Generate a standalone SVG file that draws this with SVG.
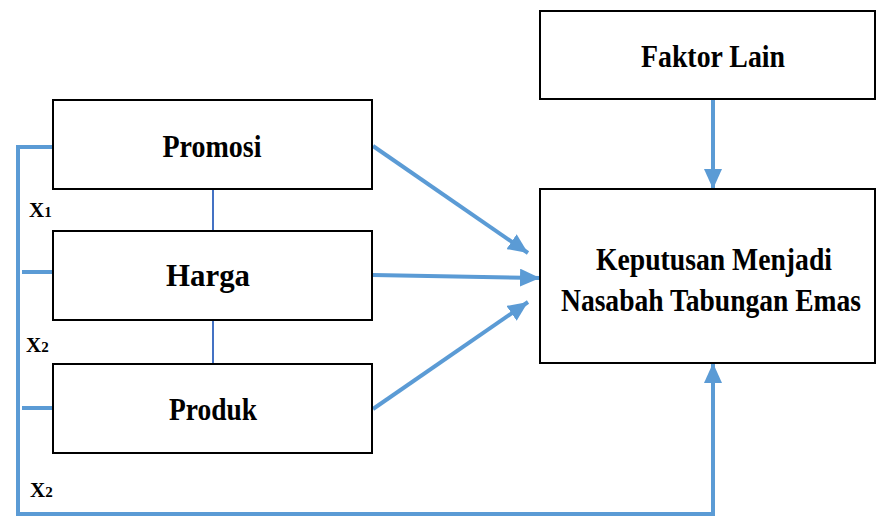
<svg xmlns="http://www.w3.org/2000/svg" width="876" height="517" viewBox="0 0 876 517">
<style>
.box{fill:#fff;stroke:#000;stroke-width:2}
.lbl{font-weight:bold;fill:#000;text-anchor:middle;font-size:31px}
.x{font-weight:bold;font-size:21px;fill:#000}
.conn{fill:none;stroke:#5B9BD5;stroke-width:4}
.link{stroke:#4472C4;stroke-width:2}
</style>
<defs>
<marker id="ah" markerUnits="userSpaceOnUse" markerWidth="22" markerHeight="18" refX="20" refY="9" orient="auto">
<path d="M0,0 L20,9 L0,18 Z" fill="#5B9BD5"/>
</marker>
</defs>
<rect width="876" height="517" fill="#fff"/>
<g id="connectors">
<line class="link" x1="213" y1="189" x2="213" y2="230"/>
<line class="link" x1="213" y1="320" x2="213" y2="363"/>
<line class="conn" x1="373" y1="146" x2="528" y2="253" marker-end="url(#ah)"/>
<line class="conn" x1="373" y1="275" x2="540" y2="278" marker-end="url(#ah)"/>
<line class="conn" x1="373" y1="409" x2="528" y2="302" marker-end="url(#ah)"/>
<line class="conn" x1="713" y1="100" x2="713" y2="189" marker-end="url(#ah)"/>
<path class="conn" d="M53,147 H18 V514 H713 V363" marker-end="url(#ah)"/>
<line class="conn" x1="22" y1="272" x2="53" y2="272"/>
<line class="conn" x1="22" y1="408" x2="53" y2="408"/>
</g>
<g id="promosi" font-family="Liberation Serif, serif">
<rect class="box" x="53" y="100" width="319" height="89"/>
<text class="lbl" x="212" y="157" textLength="99" lengthAdjust="spacingAndGlyphs">Promosi</text>
</g>
<g id="harga" font-family="Liberation Serif, serif">
<rect class="box" x="53" y="231" width="319" height="89"/>
<text class="lbl" x="208" y="286" textLength="84" lengthAdjust="spacingAndGlyphs">Harga</text>
</g>
<g id="produk" font-family="Liberation Serif, serif">
<rect class="box" x="53" y="364" width="319" height="89"/>
<text class="lbl" x="213" y="420" textLength="88" lengthAdjust="spacingAndGlyphs">Produk</text>
</g>
<g id="faktor-lain" font-family="Liberation Serif, serif">
<rect class="box" x="540" y="11" width="335" height="88"/>
<text class="lbl" x="713" y="67" textLength="144" lengthAdjust="spacingAndGlyphs">Faktor Lain</text>
</g>
<g id="keputusan" font-family="Liberation Serif, serif">
<rect class="box" x="540" y="189" width="335" height="174"/>
<text class="lbl" x="714" y="270" textLength="236" lengthAdjust="spacingAndGlyphs">Keputusan Menjadi</text>
<text class="lbl" x="711" y="311" font-size="29" textLength="300" lengthAdjust="spacingAndGlyphs">Nasabah Tabungan Emas</text>
</g>
<g id="labels" font-family="Liberation Serif, serif">
<text class="x" x="29" y="217">X<tspan font-size="15">1</tspan></text>
<text class="x" x="26" y="352">X<tspan font-size="15">2</tspan></text>
<text class="x" x="30" y="497">X<tspan font-size="15">2</tspan></text>
</g>
</svg>
